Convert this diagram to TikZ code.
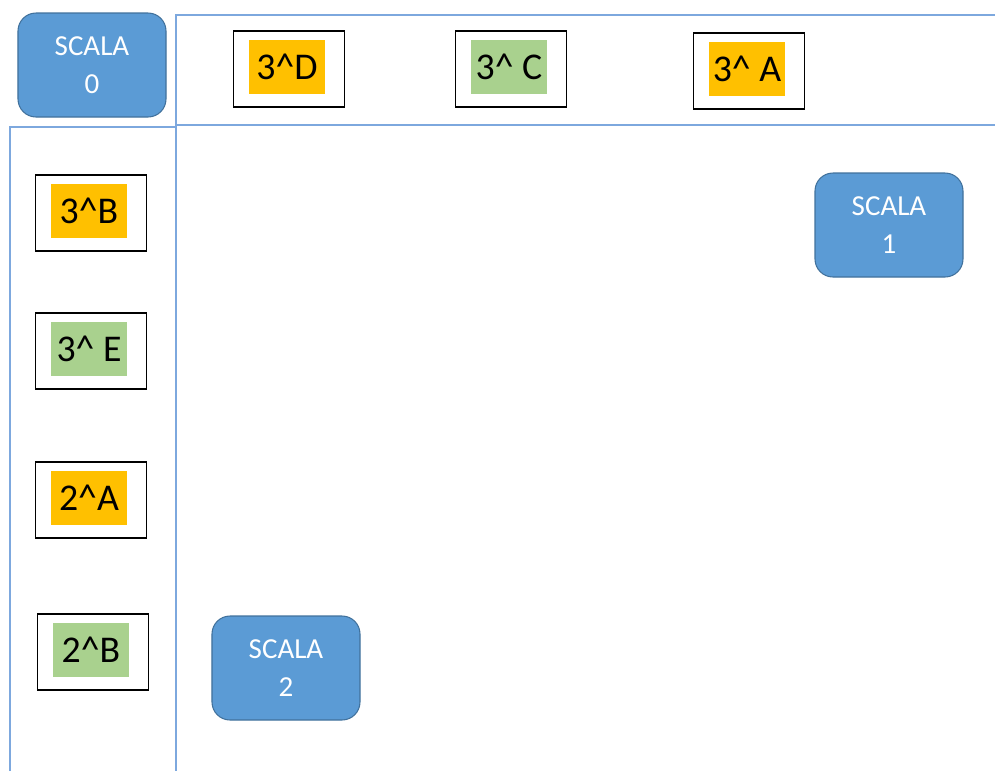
\documentclass[tikz,border=0pt]{standalone}
\usepackage{fontspec}
\setmainfont{Carlito}
\usepackage{tikz}
\usetikzlibrary{positioning}
\definecolor{scalablue}{RGB}{91,155,213}
\definecolor{scalaedge}{RGB}{65,113,156}
\definecolor{panelline}{RGB}{125,168,222}
\definecolor{voto}{RGB}{255,192,0}
\definecolor{votook}{RGB}{169,209,142}
\tikzset{every picture/.style={line width=1pt},
scala/.style={draw=scalaedge,fill=scalablue,rounded corners=0.36cm,minimum width=2.96cm,minimum height=2.08cm,text=white,align=center,line width=0.6pt,font=\fontsize{16.5}{21.5}\selectfont},
casella/.style={draw=black,line width=1.1pt,minimum width=2.22cm,minimum height=1.52cm},
evid/.style={fill=#1,minimum width=1.52cm,minimum height=1.08cm,inner sep=0pt,font=\fontsize{21.5}{24}\selectfont},
pannello/.style={draw=panelline,line width=1.2pt}}

\begin{document}
\begin{tikzpicture}[x=0.2mm,y=-0.2mm]
\useasboundingbox (0,0) rectangle (995,771);
% pannelli
\draw[pannello] (995,15) -- (176,15) -- (176,771);
\draw[pannello] (176,125) -- (995,125);
\draw[pannello] (10,771) -- (10,127) -- (176,127);
% scale
\node[scala] (s0) at (92,65) {SCALA\\0};
\node[scala] (s1) at (889,225) {SCALA\\1};
\node[scala] (s2) at (286,668) {SCALA\\2};
% classi in alto
\foreach \x/\y/\c/\n/\t in {289/69/voto/d3/3\textasciicircum D,511/69/votook/c3/3\textasciicircum{} C,749/71/voto/a3/3\textasciicircum{} A}{
\node[casella] (\n) at (\x,\y) {};
\node[evid=\c] (\n-t) at ([shift={(-2,-2)}]\n.center) {\t};
}
% classi a sinistra
\foreach \x/\y/\c/\n/\t in {91/213/voto/b3/3\textasciicircum B,91/351/votook/e3/3\textasciicircum{} E,91/500/voto/a2/2\textasciicircum A,93/652/votook/b2/2\textasciicircum B}{
\node[casella] (\n) at (\x,\y) {};
\node[evid=\c] (\n-t) at ([shift={(-2,-2)}]\n.center) {\t};
}
\end{tikzpicture}
\end{document}
